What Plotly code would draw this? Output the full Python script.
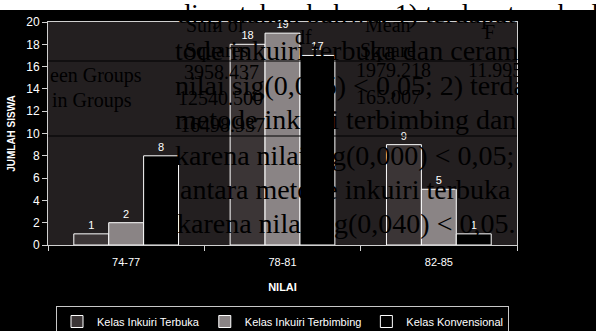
import plotly.graph_objects as go

categories = ["74-77", "78-81", "82-85"]
series_names = ["Kelas Inkuiri Terbuka", "Kelas Inkuiri Terbimbing", "Kelas Konvensional"]
terbuka = [1, 18, 9]
terbimbing = [2, 19, 5]
konvensional = [8, 17, 1]
values = [terbuka, terbimbing, konvensional]
fills = ["#3b3536", "#8a8485", "#000000"]

y_ticks = list(range(0, 21, 2))

# overlaid document text (from the source page)
big_lines = [
    "dinyatakan bahwa: 1) terdapat perbedaan",
    "tode inkuiri terbuka dan ceramah",
    "nilai sig(0,005) < 0,05; 2) terdapat",
    "metode inkuiri terbimbing dan",
    "karena nilai sig(0,000) < 0,05; 3)",
    "antara metode inkuiri terbuka dan",
    "karena nilai sig(0,040) < 0,05.",
]
table_texts = [
    "Sum of", "Squares", "df", "Mean", "Square", "F",
    "een Groups", "3958.437", "1979.218", "11.995",
    "in Groups", "12540.500", "165.007", "16498.937",
]

W, H = 596, 331
L, R, T, B = 48, 79, 22, 86
pw, ph = W - L - R, H - T - B

def px(x):
    return (x - L) / pw

def py(y):
    return (H - B - y) / ph

fig = go.Figure()
for name, vals, col in zip(series_names, values, fills):
    fig.add_trace(go.Bar(
        name=name, x=categories, y=vals,
        marker=dict(color=col, line=dict(color="#ffffff", width=1)),
        text=[str(v) for v in vals], textposition="outside",
        textfont=dict(color="#ffffff", size=11, family="Liberation Sans"),
        cliponaxis=False,
    ))

shapes = [
    dict(type="rect", xref="paper", yref="paper", x0=px(0), x1=px(W), y0=py(10), y1=py(0),
         fillcolor="#ffffff", line=dict(width=0), layer="below"),
    dict(type="line", xref="paper", yref="paper", x0=0, x1=1, y0=py(61), y1=py(61),
         line=dict(color="#000000", width=1), layer="above"),
    dict(type="line", xref="paper", yref="paper", x0=0, x1=1, y0=py(136), y1=py(136),
         line=dict(color="#000000", width=1), layer="above"),
]

annotations = []
big_pos = [(175, 13), (173, 50), (173, 85), (173, 119), (173, 155), (178, 189), (175, 223)]
for t, (x, y) in zip(big_lines, big_pos):
    annotations.append(dict(text=t, xref="paper", yref="paper", x=px(x), y=py(y),
                            xanchor="left", yanchor="middle", showarrow=False,
                            font=dict(family="Liberation Serif", size=28, color="#000000")))
tab_pos = [
    (215, 25, "center"), (217, 50, "center"), (303, 37, "center"), (388, 25, "center"),
    (388, 50, "center"), (489, 32, "center"),
    (48, 75, "left"), (182, 72, "left"), (354, 70, "left"), (466, 70, "left"),
    (50, 100, "left"), (176, 98, "left"), (354, 97, "left"), (178, 125, "left"),
]
for t, (x, y, a) in zip(table_texts, tab_pos):
    annotations.append(dict(text=t, xref="paper", yref="paper", x=px(x), y=py(y),
                            xanchor=a, yanchor="middle", showarrow=False,
                            font=dict(family="Liberation Serif", size=20, color="#000000")))

fig.update_layout(
    width=W, height=H,
    margin=dict(l=L, r=R, t=T, b=B, pad=0, autoexpand=False),
    paper_bgcolor="#000000", plot_bgcolor="#231f20",
    barmode="group", bargap=0.33, bargroupgap=0,
    font=dict(family="Liberation Sans", size=11, color="#ffffff"),
    showlegend=True,
    legend=dict(orientation="h", xref="container", yref="container",
                x=56 / W, y=1 - 306 / H, xanchor="left", yanchor="top",
                bgcolor="#000000", bordercolor="#c8c8c8", borderwidth=1,
                font=dict(size=11, color="#ffffff", family="Liberation Sans"),
                itemwidth=30, tracegroupgap=0),
    xaxis=dict(type="category", showgrid=False, showline=True, linecolor="#d0d0d0",
               linewidth=1, mirror=True, ticks="outside", tickson="boundaries",
               ticklen=5, tickcolor="#d0d0d0", ticklabelstandoff=7,
               tickfont=dict(size=11, color="#ffffff"),
               title=dict(text="<b>NILAI</b>", font=dict(size=11, color="#ffffff"), standoff=16)),
    yaxis=dict(range=[0, 20], tickvals=y_ticks, showgrid=False, zeroline=False,
               showline=True, linecolor="#d0d0d0", linewidth=1, mirror=True,
               ticks="outside", ticklen=5, tickcolor="#d0d0d0",
               tickfont=dict(size=12, color="#ffffff"),
               title=dict(text="<b>JUMLAH SISWA</b>", font=dict(size=10, color="#ffffff"), standoff=8)),
    shapes=shapes, annotations=annotations,
)

fig.write_html("out.html")
